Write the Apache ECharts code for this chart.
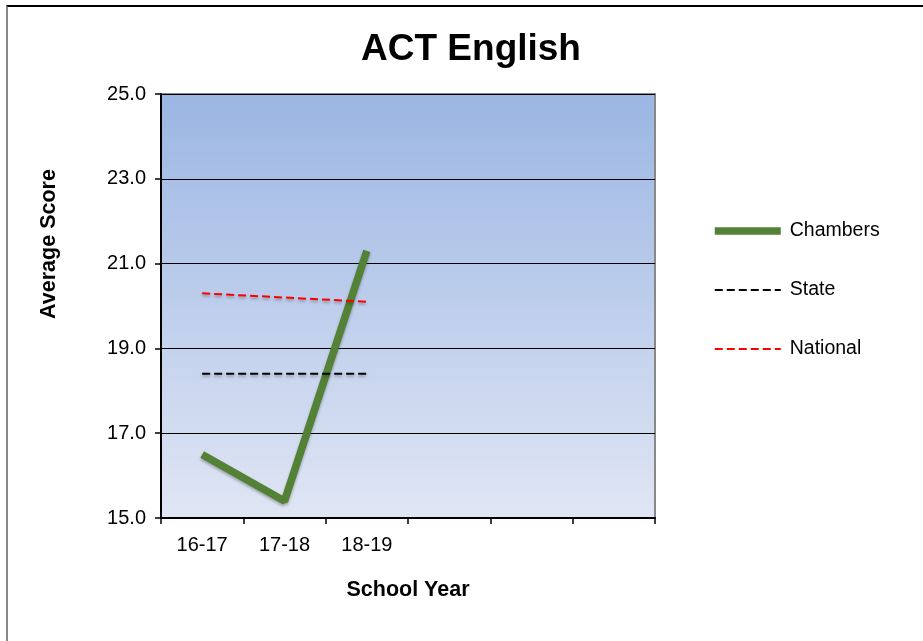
<!DOCTYPE html>
<html>
<head>
<meta charset="utf-8">
<script src="https://cdn.jsdelivr.net/npm/echarts@6/dist/echarts.min.js"></script>
<style>
    html, body { margin: 0; padding: 0; background: #fff; }
    #frame {
        position: absolute; left: 6px; top: 5px; width: 917px; height: 636px;
        border-top: 2px solid #000; border-left: 2px solid #888; box-sizing: border-box;
    }
    #chart { position: absolute; left: 0; top: 0; width: 923px; height: 641px; }
</style>
</head>
<body>
<div id="frame"></div>
<div id="chart"></div>
<script>
// 数据
const years = ['16-17', '17-18', '18-19', '', '', ''];
const chambers = [16.5, 15.4, 21.3];
const state = [18.4, 18.4, 18.4];
const national = [20.3, 20.2, 20.1];

const chart = echarts.init(document.getElementById('chart'));
const font = 'Liberation Sans, Arial, sans-serif';

// 线条阴影
const shadow = { shadowBlur: 3, shadowColor: 'rgba(0,0,0,0.3)', shadowOffsetY: 2 };

chart.setOption({
    animation: false,
    title: {
        text: 'ACT English',
        left: 466, top: 26, textAlign: 'center',
        textStyle: { fontFamily: font, fontSize: 37, fontWeight: 'bold', color: '#000' }
    },
    legend: {
        orient: 'vertical',
        left: 706, top: 216,
        itemWidth: 66, itemHeight: 14, itemGap: 39,
        itemStyle: { opacity: 0 },
        textStyle: { fontFamily: font, fontSize: 19.5, color: '#000', padding: [0, 0, 0, 4] },
        data: [
            { name: 'Chambers', lineStyle: { width: 7.5 } },
            { name: 'State', lineStyle: { width: 2 } },
            { name: 'National', lineStyle: { width: 2 } }
        ]
    },
    grid: {
        left: 161, right: 268, top: 94, bottom: 123,
        show: true,
        borderColor: '#888', borderWidth: 2,
        backgroundColor: new echarts.graphic.LinearGradient(0, 0, 0, 1, [
            { offset: 0, color: '#9bb6e3' },
            { offset: 1, color: '#e0e6f4' }
        ])
    },
    xAxis: {
        type: 'category',
        data: years,
        boundaryGap: true,
        name: 'School Year',
        nameLocation: 'middle',
        nameGap: 61,
        nameTextStyle: { fontFamily: font, fontSize: 21.5, fontWeight: 'bold', color: '#000' },
        axisLine: { lineStyle: { color: '#000', width: 2 } },
        axisTick: { show: true, length: 6, lineStyle: { color: '#000', width: 1.5 } },
        axisLabel: { fontFamily: font, fontSize: 20, color: '#000', margin: 17, interval: 0 },
        splitLine: { show: false }
    },
    yAxis: {
        type: 'value',
        min: 15, max: 25, interval: 2,
        name: 'Average Score',
        nameLocation: 'middle',
        nameGap: 101,
        nameTextStyle: { fontFamily: font, fontSize: 21.5, fontWeight: 'bold', color: '#000',
            padding: [0, 0, 0, 124] },
        axisLine: { show: true, lineStyle: { color: '#000', width: 2 } },
        axisTick: { show: true, length: 6, lineStyle: { color: '#000', width: 1.5 } },
        axisLabel: { fontFamily: font, fontSize: 20, color: '#000', margin: 15,
            formatter: v => v.toFixed(1) },
        splitLine: { show: true, lineStyle: { color: '#000', width: 1 } }
    },
    series: [
        {
            name: 'Chambers', type: 'line', data: chambers,
            symbol: 'none',
            lineStyle: Object.assign({ color: '#538135', width: 7.5 }, shadow),
            itemStyle: { color: '#538135' }
        },
        {
            name: 'State', type: 'line', data: state,
            symbol: 'none',
            lineStyle: Object.assign({ color: '#000', width: 2, type: [8, 4] }, shadow),
            itemStyle: { color: '#000' }
        },
        {
            name: 'National', type: 'line', data: national,
            symbol: 'none',
            lineStyle: Object.assign({ color: '#ff0000', width: 2, type: [8, 4] }, shadow),
            itemStyle: { color: '#ff0000' }
        }
    ]
});
</script>
</body>
</html>
